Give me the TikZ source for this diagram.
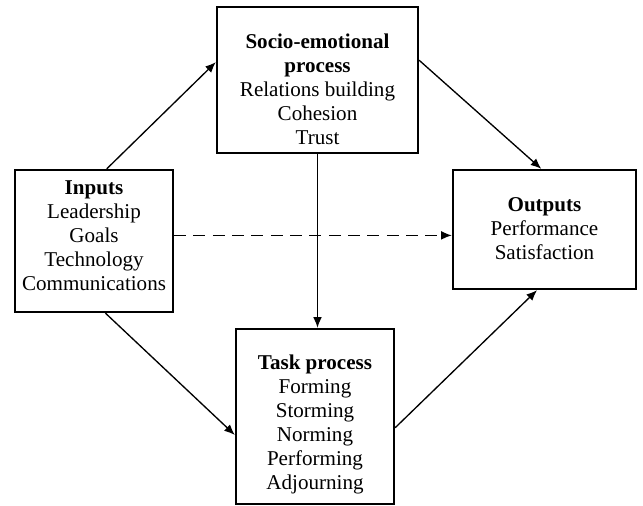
\documentclass[tikz,border=0pt]{standalone}
\usepackage{fontspec}
\setmainfont{Liberation Serif}
\usetikzlibrary{arrows.meta}
\tikzset{every picture/.style={line width=0.75pt}}
\tikzset{
  blockbox/.style={draw, line width=1.7pt, inner sep=0pt},
  blocktext/.style={align=center, inner sep=0.75pt, font=\fontsize{15.8}{18}\selectfont},
  flowarrow/.style={line width=1pt, -{Latex[length=8pt,width=6.5pt]}},
}

\begin{document}
\begin{tikzpicture}[x=0.75pt,y=0.75pt,yscale=-1,xscale=1]
\useasboundingbox (0,0) rectangle (643,506);

%Shape: Rectangle [inputs]
\node [blockbox, minimum width=118.5pt, minimum height=106.5pt] (inputs) at (94,241) {};
%Shape: Rectangle [socio]
\node [blockbox, minimum width=150.75pt, minimum height=109.5pt] (socio) at (317.5,80) {};
%Shape: Rectangle [outputs]
\node [blockbox, minimum width=137.25pt, minimum height=89.25pt] (outputs) at (544.5,229.5) {};
%Shape: Rectangle [task]
\node [blockbox, minimum width=118.5pt, minimum height=131.25pt] (task) at (315,416.5) {};

% Text Node
\node [blocktext] (inputs-text) at (94,235.5) {\textbf{Inputs}\\Leadership\\Goals\\Technology\\Communications};
% Text Node
\node [blocktext] (socio-text) at (317.5,89.5) {\textbf{Socio-emotional}\\\textbf{process}\\Relations building\\Cohesion\\Trust};
% Text Node
\node [blocktext] (outputs-text) at (544.5,229) {\textbf{Outputs}\\Performance\\Satisfaction};
% Text Node
\node [blocktext] (task-text) at (315,424) {\textbf{Task process}\\Forming\\Storming\\Norming\\Performing\\Adjourning};

%Straight Lines
\draw [flowarrow] (inputs.80) -- (socio.170);
%Straight Lines
\draw [flowarrow] (inputs.-81) -- (task.193);
%Straight Lines
\draw [flowarrow] (socio.11) -- (outputs.93);
%Straight Lines
\draw [flowarrow] (socio.south) -- (socio.south |- task.north);
%Straight Lines
\draw [flowarrow] (task.-8) -- (outputs.-97);
%Dashed Lines
\draw [flowarrow, dash pattern=on 9pt off 5.5pt] (inputs.4) -- (inputs.4 -| outputs.west);
\end{tikzpicture}
\end{document}
